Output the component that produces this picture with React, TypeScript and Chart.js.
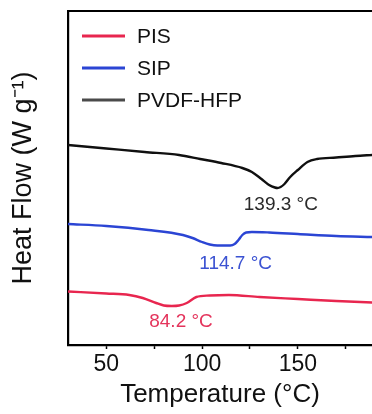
import React, { useEffect, useRef } from "react";
import { Chart, registerables } from "chart.js";

Chart.register(...registerables);

// ---- Data ----
const seriesNames = ["PIS", "SIP", "PVDF-HFP"];

const pisT = [30, 50, 62, 69, 76, 80, 84.2, 88, 92, 97, 104, 114, 130, 150, 170, 189];
const pisHF = [5.35, 5.15, 5.0, 4.7, 4.2, 3.95, 3.9, 3.95, 4.2, 4.8, 4.95, 5.0, 4.8, 4.6, 4.4, 4.25];

const sipT = [30, 50, 72, 90, 95, 100, 104, 108, 112, 114.7, 117, 119, 121, 123, 126, 135, 150, 170, 189];
const sipHF = [12.1, 11.9, 11.5, 11.0, 10.7, 10.3, 10.05, 9.95, 9.95, 9.95, 10.1, 10.5, 11.0, 11.25, 11.3, 11.25, 11.1, 10.9, 10.8];

const pvdfT = [30, 50, 70, 88, 99, 110, 121, 126, 131, 135, 138, 139.3, 141, 143, 146, 150, 155, 160, 170, 180, 189];
const pvdfHF = [20.0, 19.65, 19.3, 19.0, 18.6, 18.2, 17.7, 17.3, 16.6, 16.0, 15.75, 15.7, 15.8, 16.1, 16.8, 17.5, 18.3, 18.6, 18.75, 18.9, 19.0];

const xTicks = [50, 75, 100, 125, 150, 175];
const xLabelTicks = [50, 100, 150];

const peakTemps = [84.2, 114.7, 139.3];
const peakLabels = peakTemps.map((t) => `${t.toFixed(1)} °C`);
// label anchor (data units)
const peakLabelT = [89, 117.5, 141.1];
const peakLabelHF = [2.35, 8.1, 14.05];

// ---- Styles ----
const FONT = "'Liberation Sans', Arial, Helvetica, sans-serif";
const lineColors = ["#e8264f", "#2b45d4", "#101010"];
const legendColors = ["#e8264f", "#2b45d4", "#4a4a4a"];
const labelColors = ["#e4345c", "#3b52d2", "#2a2a2a"];

const toXY = (xs: number[], ys: number[]) => xs.map((x, i) => ({ x, y: ys[i] }));

const overlayPlugin = {
  id: "overlay",
  afterDraw(chart: any) {
    const { ctx, chartArea: a, scales } = chart;
    ctx.save();
    // top frame line
    ctx.strokeStyle = "#000";
    ctx.lineWidth = 2.2;
    ctx.beginPath();
    ctx.moveTo(a.left - 1, a.top);
    ctx.lineTo(chart.width, a.top);
    ctx.stroke();

    // legend
    ctx.font = `21px ${FONT}`;
    ctx.textBaseline = "middle";
    ctx.textAlign = "left";
    seriesNames.forEach((name, i) => {
      const y = a.top + 25 + i * 32;
      ctx.strokeStyle = legendColors[i];
      ctx.lineWidth = 3;
      ctx.beginPath();
      ctx.moveTo(a.left + 14, y);
      ctx.lineTo(a.left + 57, y);
      ctx.stroke();
      ctx.fillStyle = "#111";
      ctx.fillText(name, a.left + 69, y + 1);
    });

    // peak labels
    ctx.font = `19px ${FONT}`;
    ctx.textAlign = "center";
    peakLabels.forEach((lab, i) => {
      ctx.fillStyle = labelColors[i];
      ctx.fillText(lab, scales.x.getPixelForValue(peakLabelT[i]), scales.y.getPixelForValue(peakLabelHF[i]));
    });
    ctx.restore();
  },
};

export default function App() {
  const ref = useRef<HTMLCanvasElement | null>(null);
  useEffect(() => {
    document.body.style.margin = "0";
    const canvas = ref.current;
    if (!canvas) return;
    const chart = new Chart(canvas, {
      type: "line",
      data: {
        datasets: [
          { label: seriesNames[0], data: toXY(pisT, pisHF), borderColor: lineColors[0], backgroundColor: lineColors[0] },
          { label: seriesNames[1], data: toXY(sipT, sipHF), borderColor: lineColors[1], backgroundColor: lineColors[1] },
          { label: seriesNames[2], data: toXY(pvdfT, pvdfHF), borderColor: lineColors[2], backgroundColor: lineColors[2] },
        ],
      },
      options: {
        animation: false,
        responsive: true,
        maintainAspectRatio: false,
        layout: { padding: { left: 4, top: 11, right: 0, bottom: 1 } },
        parsing: false,
        elements: {
          point: { radius: 0 },
          line: { borderWidth: 2.4, cubicInterpolationMode: "monotone" },
        },
        plugins: { legend: { display: false }, tooltip: { enabled: false } },
        scales: {
          x: {
            type: "linear",
            min: 30,
            max: 188.7,
            afterBuildTicks: (s: any) => {
              s.ticks = xTicks.map((v) => ({ value: v }));
            },
            afterFit: (s: any) => {
              s.height = 68;
            },
            ticks: {
              autoSkip: false,
              maxRotation: 0,
              padding: 2,
              color: "#111",
              font: { size: 23, family: FONT },
              callback: (v: any) => (xLabelTicks.includes(Number(v)) ? String(v) : ""),
            },
            grid: { drawOnChartArea: false, drawTicks: true, tickLength: 4, tickWidth: 1.5, tickColor: "#000" },
            border: { display: true, color: "#000", width: 2.2 },
            title: {
              display: true,
              text: "Temperature (°C)",
              color: "#111",
              font: { size: 26, family: FONT },
              padding: { top: 0, bottom: 3 },
            },
          },
          y: {
            type: "linear",
            min: 0,
            max: 33.4,
            afterFit: (s: any) => {
              s.width = 64;
            },
            ticks: { display: false },
            grid: { drawOnChartArea: false, drawTicks: false },
            border: { display: true, color: "#000", width: 2.2 },
            title: {
              display: true,
              text: "Heat Flow (W g⁻¹)",
              color: "#111",
              font: { size: 27, family: FONT },
              padding: { top: 3, bottom: 3 },
            },
          },
        },
      },
      plugins: [overlayPlugin],
    } as any);
    return () => chart.destroy();
  }, []);
  return (
    <div style={{ width: 372, height: 414, position: "relative" }}>
      <canvas ref={ref} />
    </div>
  );
}
